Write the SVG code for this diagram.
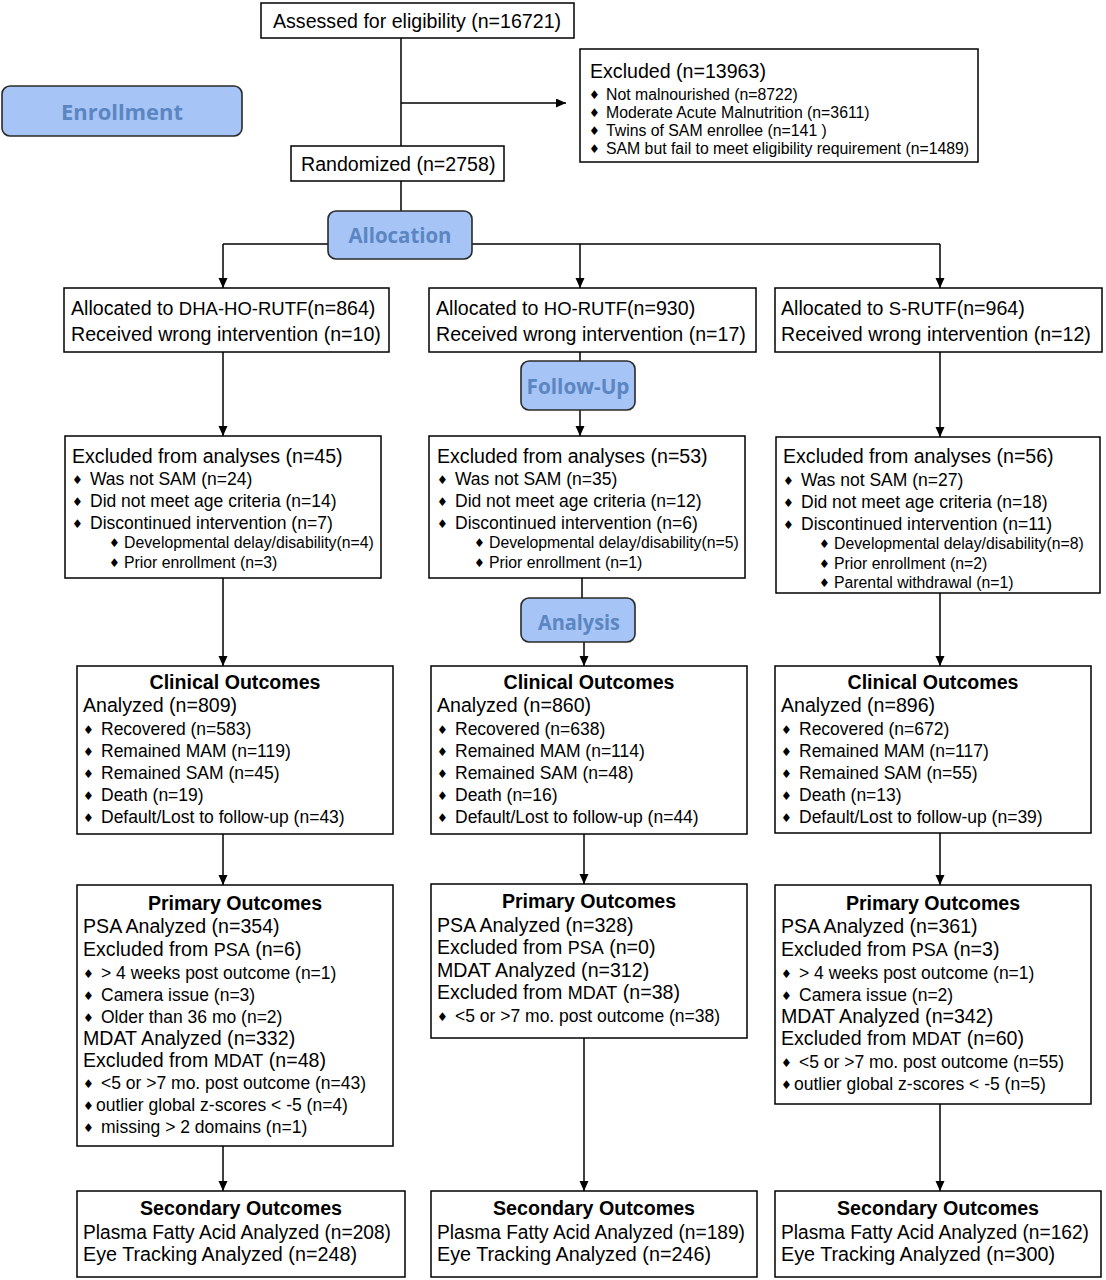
<svg xmlns="http://www.w3.org/2000/svg" width="1106" height="1280" viewBox="0 0 1106 1280">
<style>
.box{fill:#fff;stroke:#000;stroke-width:1.5}
.phase{fill:#a6c4f5;stroke:#2a2a2a;stroke-width:1.6}
.pt{font-family:"Open Sans","Liberation Sans",sans-serif;font-weight:700;font-size:22px;fill:#5b86c2;text-anchor:middle}
.t{font-family:"Liberation Sans",Arial,sans-serif;font-size:19.6px;fill:#000}
.s{font-size:17.5px}
.xs{font-size:15.8px}
.h{font-weight:bold;text-anchor:middle}
.b{font-family:"DejaVu Sans",sans-serif;font-size:12px}
.sec{font-family:"Liberation Sans",Arial,sans-serif;font-size:20px;fill:#000}
.con{stroke:#000;stroke-width:1.5;fill:none}
</style>
<defs>
<marker id="ah" markerUnits="userSpaceOnUse" markerWidth="10" markerHeight="10" refX="10" refY="4.5" orient="auto">
<path d="M0,0 L10,4.5 L0,9 z" fill="#000"/>
</marker>
</defs>

<g id="connectors">
<line class="con" x1="401" y1="38" x2="401" y2="146"/>
<line class="con" x1="401" y1="103" x2="566" y2="103" marker-end="url(#ah)"/>
<line class="con" x1="401" y1="181" x2="401" y2="211"/>
<line class="con" x1="223" y1="244" x2="940" y2="244"/>
<line class="con" x1="223" y1="244" x2="223" y2="288" marker-end="url(#ah)"/>
<line class="con" x1="580" y1="244" x2="580" y2="288" marker-end="url(#ah)"/>
<line class="con" x1="940" y1="244" x2="940" y2="288" marker-end="url(#ah)"/>
<line class="con" x1="223" y1="352" x2="223" y2="436" marker-end="url(#ah)"/>
<line class="con" x1="580" y1="352" x2="580" y2="361"/>
<line class="con" x1="580" y1="410" x2="580" y2="436" marker-end="url(#ah)"/>
<line class="con" x1="940" y1="352" x2="940" y2="437" marker-end="url(#ah)"/>
<line class="con" x1="223" y1="578" x2="223" y2="666" marker-end="url(#ah)"/>
<line class="con" x1="582" y1="578" x2="582" y2="598"/>
<line class="con" x1="584" y1="642" x2="584" y2="666" marker-end="url(#ah)"/>
<line class="con" x1="940" y1="593" x2="940" y2="666" marker-end="url(#ah)"/>
<line class="con" x1="223" y1="834" x2="223" y2="885" marker-end="url(#ah)"/>
<line class="con" x1="584" y1="834" x2="584" y2="884" marker-end="url(#ah)"/>
<line class="con" x1="940" y1="833" x2="940" y2="885" marker-end="url(#ah)"/>
<line class="con" x1="223" y1="1146" x2="223" y2="1191" marker-end="url(#ah)"/>
<line class="con" x1="584" y1="1038" x2="584" y2="1191" marker-end="url(#ah)"/>
<line class="con" x1="940" y1="1104" x2="940" y2="1191" marker-end="url(#ah)"/>
</g>

<g id="enrollment">
<rect class="phase" x="2" y="86" width="240" height="50" rx="8"/>
<text class="pt" x="122" y="120" textLength="122" lengthAdjust="spacingAndGlyphs">Enrollment</text>
</g>
<g id="allocation">
<rect class="phase" x="328" y="211" width="144" height="48" rx="8"/>
<text class="pt" x="400" y="243" textLength="103" lengthAdjust="spacingAndGlyphs">Allocation</text>
</g>
<g id="followup">
<rect class="phase" x="521" y="361" width="114" height="49" rx="8"/>
<text class="pt" x="578" y="394" textLength="103" lengthAdjust="spacingAndGlyphs">Follow-Up</text>
</g>
<g id="analysis">
<rect class="phase" x="521" y="598" width="114" height="44" rx="8"/>
<text class="pt" x="579" y="630" textLength="82" lengthAdjust="spacingAndGlyphs">Analysis</text>
</g>

<g id="assessed">
<rect class="box" x="261" y="3" width="313" height="35"/>
<text class="t" x="273" y="28">Assessed for eligibility (n=16721)</text>
</g>
<g id="excluded">
<rect class="box" x="580" y="49" width="398" height="113"/>
<text class="t" x="590" y="78">Excluded (n=13963)</text>
<text class="t xs"><tspan class="b" x="589" y="99">♦</tspan><tspan x="606" y="100">Not malnourished (n=8722)</tspan></text>
<text class="t xs"><tspan class="b" x="589" y="117">♦</tspan><tspan x="606" y="118">Moderate Acute Malnutrition (n=3611)</tspan></text>
<text class="t xs"><tspan class="b" x="589" y="135">♦</tspan><tspan x="606" y="136">Twins of SAM enrollee (n=141 )</tspan></text>
<text class="t xs"><tspan class="b" x="589" y="153">♦</tspan><tspan x="606" y="154">SAM but fail to meet eligibility requirement (n=1489)</tspan></text>
</g>
<g id="randomized">
<rect class="box" x="291" y="146" width="213" height="35"/>
<text class="t" x="301" y="171">Randomized (n=2758)</text>
</g>

<g id="alloc-dha">
<rect class="box" x="64" y="288" width="325" height="64"/>
<text class="t" x="71" y="315">Allocated to <tspan font-size="18.5px">DHA-HO-RUTF</tspan>(n=864)</text>
<text class="t" x="71" y="341">Received wrong intervention (n=10)</text>
</g>
<g id="alloc-ho">
<rect class="box" x="429" y="288" width="327" height="64"/>
<text class="t" x="436" y="315">Allocated to <tspan font-size="18.5px">HO-RUTF</tspan>(n=930)</text>
<text class="t" x="436" y="341">Received wrong intervention (n=17)</text>
</g>
<g id="alloc-s">
<rect class="box" x="775" y="288" width="327" height="64"/>
<text class="t" x="781" y="315">Allocated to <tspan font-size="18.5px">S-RUTF</tspan>(n=964)</text>
<text class="t" x="781" y="341">Received wrong intervention (n=12)</text>
</g>

<g id="excl-dha">
<rect class="box" x="65" y="436" width="316" height="142"/>
<text class="t" x="72" y="463">Excluded from analyses (n=45)</text>
<text class="t s"><tspan class="b" x="72" y="484">♦</tspan><tspan x="90" y="485">Was not SAM (n=24)</tspan></text>
<text class="t s"><tspan class="b" x="72" y="506">♦</tspan><tspan x="90" y="507">Did not meet age criteria (n=14)</tspan></text>
<text class="t s"><tspan class="b" x="72" y="528">♦</tspan><tspan x="90" y="529">Discontinued intervention (n=7)</tspan></text>
<text class="t xs"><tspan class="b" x="109" y="547">♦</tspan><tspan x="124" y="548">Developmental delay/disability(n=4)</tspan></text>
<text class="t xs"><tspan class="b" x="109" y="567">♦</tspan><tspan x="124" y="568">Prior enrollment (n=3)</tspan></text>
</g>
<g id="excl-ho">
<rect class="box" x="429" y="436" width="316" height="142"/>
<text class="t" x="437" y="463">Excluded from analyses (n=53)</text>
<text class="t s"><tspan class="b" x="437" y="484">♦</tspan><tspan x="455" y="485">Was not SAM (n=35)</tspan></text>
<text class="t s"><tspan class="b" x="437" y="506">♦</tspan><tspan x="455" y="507">Did not meet age criteria (n=12)</tspan></text>
<text class="t s"><tspan class="b" x="437" y="528">♦</tspan><tspan x="455" y="529">Discontinued intervention (n=6)</tspan></text>
<text class="t xs"><tspan class="b" x="474" y="547">♦</tspan><tspan x="489" y="548">Developmental delay/disability(n=5)</tspan></text>
<text class="t xs"><tspan class="b" x="474" y="567">♦</tspan><tspan x="489" y="568">Prior enrollment (n=1)</tspan></text>
</g>
<g id="excl-s">
<rect class="box" x="776" y="437" width="324" height="156"/>
<text class="t" x="783" y="463">Excluded from analyses (n=56)</text>
<text class="t s"><tspan class="b" x="783" y="485">♦</tspan><tspan x="801" y="486">Was not SAM (n=27)</tspan></text>
<text class="t s"><tspan class="b" x="783" y="507">♦</tspan><tspan x="801" y="508">Did not meet age criteria (n=18)</tspan></text>
<text class="t s"><tspan class="b" x="783" y="529">♦</tspan><tspan x="801" y="530">Discontinued intervention (n=11)</tspan></text>
<text class="t xs"><tspan class="b" x="819" y="548">♦</tspan><tspan x="834" y="549">Developmental delay/disability(n=8)</tspan></text>
<text class="t xs"><tspan class="b" x="819" y="568">♦</tspan><tspan x="834" y="569">Prior enrollment (n=2)</tspan></text>
<text class="t xs"><tspan class="b" x="819" y="587">♦</tspan><tspan x="834" y="588">Parental withdrawal (n=1)</tspan></text>
</g>

<g id="clin-dha">
<rect class="box" x="77" y="666" width="316" height="168"/>
<text class="t h" x="235" y="689">Clinical Outcomes</text>
<text class="t" x="83" y="712">Analyzed (n=809)</text>
<text class="t s"><tspan class="b" x="83" y="734">♦</tspan><tspan x="101" y="735">Recovered (n=583)</tspan></text>
<text class="t s"><tspan class="b" x="83" y="756">♦</tspan><tspan x="101" y="757">Remained MAM (n=119)</tspan></text>
<text class="t s"><tspan class="b" x="83" y="778">♦</tspan><tspan x="101" y="779">Remained SAM (n=45)</tspan></text>
<text class="t s"><tspan class="b" x="83" y="800">♦</tspan><tspan x="101" y="801">Death (n=19)</tspan></text>
<text class="t s"><tspan class="b" x="83" y="822">♦</tspan><tspan x="101" y="823">Default/Lost to follow-up (n=43)</tspan></text>
</g>
<g id="clin-ho">
<rect class="box" x="431" y="666" width="316" height="168"/>
<text class="t h" x="589" y="689">Clinical Outcomes</text>
<text class="t" x="437" y="712">Analyzed (n=860)</text>
<text class="t s"><tspan class="b" x="437" y="734">♦</tspan><tspan x="455" y="735">Recovered (n=638)</tspan></text>
<text class="t s"><tspan class="b" x="437" y="756">♦</tspan><tspan x="455" y="757">Remained MAM (n=114)</tspan></text>
<text class="t s"><tspan class="b" x="437" y="778">♦</tspan><tspan x="455" y="779">Remained SAM (n=48)</tspan></text>
<text class="t s"><tspan class="b" x="437" y="800">♦</tspan><tspan x="455" y="801">Death (n=16)</tspan></text>
<text class="t s"><tspan class="b" x="437" y="822">♦</tspan><tspan x="455" y="823">Default/Lost to follow-up (n=44)</tspan></text>
</g>
<g id="clin-s">
<rect class="box" x="775" y="666" width="316" height="167"/>
<text class="t h" x="933" y="689">Clinical Outcomes</text>
<text class="t" x="781" y="712">Analyzed (n=896)</text>
<text class="t s"><tspan class="b" x="781" y="734">♦</tspan><tspan x="799" y="735">Recovered (n=672)</tspan></text>
<text class="t s"><tspan class="b" x="781" y="756">♦</tspan><tspan x="799" y="757">Remained MAM (n=117)</tspan></text>
<text class="t s"><tspan class="b" x="781" y="778">♦</tspan><tspan x="799" y="779">Remained SAM (n=55)</tspan></text>
<text class="t s"><tspan class="b" x="781" y="800">♦</tspan><tspan x="799" y="801">Death (n=13)</tspan></text>
<text class="t s"><tspan class="b" x="781" y="822">♦</tspan><tspan x="799" y="823">Default/Lost to follow-up (n=39)</tspan></text>
</g>

<g id="prim-dha">
<rect class="box" x="77" y="885" width="316" height="261"/>
<text class="t h" x="235" y="910">Primary Outcomes</text>
<text class="t" x="83" y="933">PSA Analyzed (n=354)</text>
<text class="t" x="83" y="956">Excluded from <tspan font-size="18px">PSA</tspan> (n=6)</text>
<text class="t s"><tspan class="b" x="83" y="978">♦</tspan><tspan x="101" y="979">&gt; 4 weeks post outcome (n=1)</tspan></text>
<text class="t s"><tspan class="b" x="83" y="1000">♦</tspan><tspan x="101" y="1001">Camera issue (n=3)</tspan></text>
<text class="t s"><tspan class="b" x="83" y="1022">♦</tspan><tspan x="101" y="1023">Older than 36 mo (n=2)</tspan></text>
<text class="t" x="83" y="1045">MDAT Analyzed (n=332)</text>
<text class="t" x="83" y="1067">Excluded from <tspan font-size="18px">MDAT</tspan> (n=48)</text>
<text class="t s"><tspan class="b" x="83" y="1088">♦</tspan><tspan x="101" y="1089">&lt;5 or &gt;7 mo. post outcome (n=43)</tspan></text>
<text class="t s"><tspan class="b" x="83" y="1110">♦</tspan><tspan x="96" y="1111">outlier global z-scores &lt; -5 (n=4)</tspan></text>
<text class="t s"><tspan class="b" x="83" y="1132">♦</tspan><tspan x="101" y="1133">missing &gt; 2 domains (n=1)</tspan></text>
</g>
<g id="prim-ho">
<rect class="box" x="431" y="884" width="316" height="154"/>
<text class="t h" x="589" y="908">Primary Outcomes</text>
<text class="t" x="437" y="932">PSA Analyzed (n=328)</text>
<text class="t" x="437" y="954">Excluded from <tspan font-size="18px">PSA</tspan> (n=0)</text>
<text class="t" x="437" y="977">MDAT Analyzed (n=312)</text>
<text class="t" x="437" y="999">Excluded from <tspan font-size="18px">MDAT</tspan> (n=38)</text>
<text class="t s"><tspan class="b" x="437" y="1021">♦</tspan><tspan x="455" y="1022">&lt;5 or &gt;7 mo. post outcome (n=38)</tspan></text>
</g>
<g id="prim-s">
<rect class="box" x="775" y="885" width="316" height="219"/>
<text class="t h" x="933" y="910">Primary Outcomes</text>
<text class="t" x="781" y="933">PSA Analyzed (n=361)</text>
<text class="t" x="781" y="956">Excluded from <tspan font-size="18px">PSA</tspan> (n=3)</text>
<text class="t s"><tspan class="b" x="781" y="978">♦</tspan><tspan x="799" y="979">&gt; 4 weeks post outcome (n=1)</tspan></text>
<text class="t s"><tspan class="b" x="781" y="1000">♦</tspan><tspan x="799" y="1001">Camera issue (n=2)</tspan></text>
<text class="t" x="781" y="1023">MDAT Analyzed (n=342)</text>
<text class="t" x="781" y="1045">Excluded from <tspan font-size="18px">MDAT</tspan> (n=60)</text>
<text class="t s"><tspan class="b" x="781" y="1067">♦</tspan><tspan x="799" y="1068">&lt;5 or &gt;7 mo. post outcome (n=55)</tspan></text>
<text class="t s"><tspan class="b" x="781" y="1089">♦</tspan><tspan x="794" y="1090">outlier global z-scores &lt; -5 (n=5)</tspan></text>
</g>

<g id="sec-dha">
<rect class="box" x="77" y="1191" width="328" height="86"/>
<text class="sec" x="140" y="1215" font-weight="bold" textLength="202" lengthAdjust="spacingAndGlyphs">Secondary Outcomes</text>
<text class="sec" x="83" y="1239" textLength="308" lengthAdjust="spacingAndGlyphs">Plasma Fatty Acid Analyzed (n=208)</text>
<text class="sec" x="83" y="1261" textLength="274" lengthAdjust="spacingAndGlyphs">Eye Tracking Analyzed (n=248)</text>
</g>
<g id="sec-ho">
<rect class="box" x="431" y="1191" width="326" height="86"/>
<text class="sec" x="493" y="1215" font-weight="bold" textLength="202" lengthAdjust="spacingAndGlyphs">Secondary Outcomes</text>
<text class="sec" x="437" y="1239" textLength="308" lengthAdjust="spacingAndGlyphs">Plasma Fatty Acid Analyzed (n=189)</text>
<text class="sec" x="437" y="1261" textLength="274" lengthAdjust="spacingAndGlyphs">Eye Tracking Analyzed (n=246)</text>
</g>
<g id="sec-s">
<rect class="box" x="775" y="1191" width="326" height="86"/>
<text class="sec" x="837" y="1215" font-weight="bold" textLength="202" lengthAdjust="spacingAndGlyphs">Secondary Outcomes</text>
<text class="sec" x="781" y="1239" textLength="308" lengthAdjust="spacingAndGlyphs">Plasma Fatty Acid Analyzed (n=162)</text>
<text class="sec" x="781" y="1261" textLength="274" lengthAdjust="spacingAndGlyphs">Eye Tracking Analyzed (n=300)</text>
</g>
</svg>
